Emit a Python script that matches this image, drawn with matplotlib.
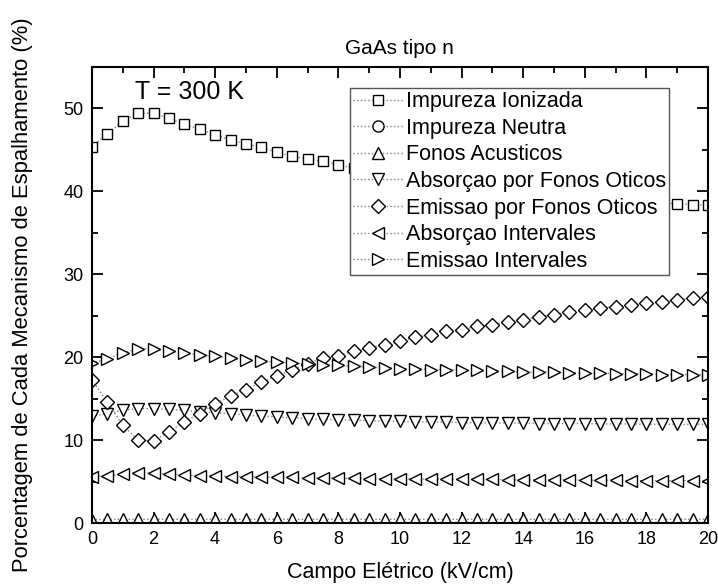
import numpy as np
import matplotlib
matplotlib.use('Agg')
import matplotlib.pyplot as plt
from matplotlib.ticker import MultipleLocator

plt.rcParams['font.family'] = ['Liberation Sans', 'DejaVu Sans']

# Campo eletrico (kV/cm), 0 a 20 em passos de 0.5
campo = np.arange(0, 20.01, 0.5)

impureza_ionizada = [45.4, 46.9, 48.5, 49.4, 49.4, 48.8, 48.1, 47.5, 46.8, 46.2,
                     45.7, 45.3, 44.7, 44.2, 43.9, 43.6, 43.2, 42.8, 42.5, 42.2,
                     41.9, 41.6, 41.3, 41.1, 40.8, 40.6, 40.4, 40.2, 40.0, 39.8,
                     39.6, 39.4, 39.3, 39.1, 39.0, 38.8, 38.7, 38.6, 38.5, 38.4, 38.3]
impureza_neutra = [0.0] * 41
fonos_acusticos = [0.4] + [0.45] * 40
absorcao_oticos = [12.9, 13.2, 13.6, 13.8, 13.8, 13.7, 13.6, 13.4, 13.3, 13.2,
                   13.0, 12.9, 12.8, 12.7, 12.6, 12.5, 12.45, 12.4, 12.35, 12.3,
                   12.25, 12.2, 12.2, 12.15, 12.1, 12.1, 12.1, 12.05, 12.05, 12.0,
                   12.0, 12.0, 12.0, 11.95, 11.95, 11.95, 11.9, 11.9, 11.9, 11.9, 11.9]
emissao_oticos = [17.3, 14.6, 11.8, 10.0, 9.9, 11.0, 12.2, 13.2, 14.4, 15.3,
                  16.1, 17.0, 17.7, 18.5, 19.2, 19.9, 20.2, 20.7, 21.1, 21.5,
                  21.9, 22.4, 22.7, 23.1, 23.3, 23.7, 23.9, 24.3, 24.5, 24.9,
                  25.1, 25.5, 25.7, 25.9, 26.1, 26.3, 26.5, 26.7, 26.9, 27.1, 27.2]
absorcao_intervales = [5.6, 5.7, 5.9, 6.0, 6.0, 5.9, 5.8, 5.7, 5.7, 5.6,
                       5.6, 5.5, 5.5, 5.5, 5.4, 5.4, 5.4, 5.4, 5.35, 5.35,
                       5.3, 5.3, 5.3, 5.3, 5.25, 5.25, 5.25, 5.2, 5.2, 5.2,
                       5.2, 5.2, 5.15, 5.15, 5.15, 5.1, 5.1, 5.1, 5.1, 5.1, 5.1]
emissao_intervales = [19.3, 19.8, 20.5, 21.0, 21.0, 20.8, 20.5, 20.3, 20.1, 19.9,
                      19.7, 19.5, 19.4, 19.3, 19.2, 19.1, 19.0, 18.9, 18.8, 18.7,
                      18.6, 18.6, 18.5, 18.5, 18.4, 18.4, 18.3, 18.3, 18.2, 18.2,
                      18.2, 18.1, 18.1, 18.1, 18.0, 18.0, 18.0, 17.9, 17.9, 17.9, 17.8]

series = [
    (impureza_ionizada, 's', 'Impureza Ionizada'),
    (impureza_neutra, 'o', 'Impureza Neutra'),
    (fonos_acusticos, '^', 'Fonos Acusticos'),
    (absorcao_oticos, 'v', 'Absorçao por Fonos Oticos'),
    (emissao_oticos, 'D', 'Emissao por Fonos Oticos'),
    (absorcao_intervales, '<', 'Absorçao Intervales'),
    (emissao_intervales, '>', 'Emissao Intervales'),
]
tamanhos = {'s': 7.3, 'o': 8.0, 'D': 6.8}

fig = plt.figure(figsize=(7.18, 5.87), dpi=100)
ax = fig.add_axes([0.128, 0.109, 0.858, 0.777])

for vals, mk, lab in series:
    vals = np.array(vals, dtype=float)
    # pontos nulos nao aparecem no grafico
    y = np.where(vals > 0, vals, np.nan)
    ax.plot(campo, y, linestyle=':', color='gray', linewidth=1.0,
            marker=mk, markersize=tamanhos.get(mk, 8.3), markerfacecolor='white',
            markeredgecolor='black', markeredgewidth=1.0, label=lab)

ax.set_xlim(0, 20)
ax.set_ylim(0, 55)
ax.xaxis.set_major_locator(MultipleLocator(2))
ax.xaxis.set_minor_locator(MultipleLocator(1))
ax.yaxis.set_major_locator(MultipleLocator(10))
ax.yaxis.set_minor_locator(MultipleLocator(5))
ax.tick_params(which='both', direction='in', top=True, right=True,
               labelsize=13, width=1.3)
ax.tick_params(which='major', length=8, pad=6)
ax.tick_params(which='minor', length=4.5)
for s in ax.spines.values():
    s.set_linewidth(1.5)

ax.set_xlabel('Campo Elétrico (kV/cm)', fontsize=15.5, labelpad=10)
ax.set_ylabel('Porcentagem de Cada Mecanismo de Espalhamento (%)', fontsize=15.8, labelpad=22)
ax.set_title('GaAs tipo n', fontsize=15, pad=9)
ax.text(1.4, 52, 'T = 300 K', fontsize=18, va='center')

leg = ax.legend(loc='upper left', bbox_to_anchor=(0.419, 0.954), fontsize=15.5,
                frameon=True, fancybox=False, framealpha=1, edgecolor='#555555',
                handlelength=2.3, handletextpad=0.15, labelspacing=0.26,
                borderpad=0.15, borderaxespad=0)
leg.get_frame().set_linewidth(1.0)
leg.set_zorder(5)

plt.savefig('out.png', dpi=100)
